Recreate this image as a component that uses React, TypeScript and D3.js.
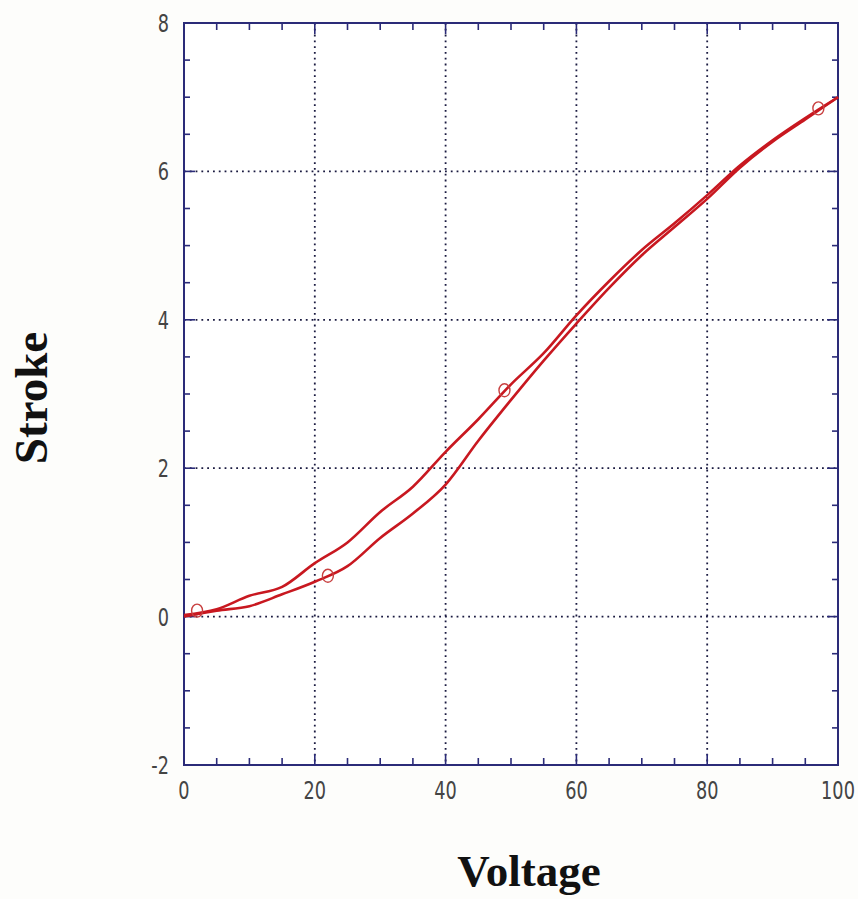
import React from 'react'
import * as d3 from 'd3'

const voltage = [0, 5, 10, 15, 20, 25, 30, 35, 40, 45, 50, 55, 60, 65, 70, 75, 80, 85, 90, 95, 100]
const strokeLower = [0.0, 0.08, 0.14, 0.3, 0.47, 0.68, 1.06, 1.39, 1.78, 2.37, 2.92, 3.45, 3.95, 4.43, 4.87, 5.25, 5.63, 6.05, 6.4, 6.7, 7.0]
const strokeUpper = [0.02, 0.1, 0.28, 0.4, 0.72, 1.0, 1.41, 1.75, 2.22, 2.66, 3.13, 3.55, 4.06, 4.52, 4.94, 5.3, 5.68, 6.08, 6.42, 6.72, 7.0]
const markers = [
	{ v: 2, s: 0.08 },
	{ v: 22, s: 0.55 },
	{ v: 49, s: 3.05 },
	{ v: 97, s: 6.85 },
]
const xTicks = [0, 20, 40, 60, 80, 100]
const yTicks = [-2, 0, 2, 4, 6, 8]

const W = 858
const H = 899
const margin = { top: 23, right: 20, bottom: 134, left: 184 }

const App = () => {
	const x = d3.scaleLinear().domain([0, 100]).range([margin.left, W - margin.right])
	const y = d3.scaleLinear().domain([-2, 8]).range([H - margin.bottom, margin.top])

	const line = d3
		.line<number>()
		.x((_, i) => x(voltage[i]))
		.y((d) => y(d))
		.curve(d3.curveMonotoneX)

	const frame = '#2b2b78'
	const x0 = x(0), x1 = x(100), y0 = y(-2), y1 = y(8)
	const xMinor = d3.range(0, 101, 5)
	const yMinor = d3.range(-2, 8.01, 0.5)
	const tickFont = '"Liberation Sans Narrow", "DejaVu Sans Condensed", "Roboto Condensed", sans-serif'

	return (
		<svg width={W} height={H} style={{ position: 'absolute', left: 0, top: 0 }}>
			<rect width={W} height={H} fill="#fdfdfb" />
			<rect x={x0} y={y1} width={x1 - x0} height={y0 - y1} fill="#ffffff" />
			{/* grid */}
			{xTicks.slice(1, -1).map((t) => (
				<line key={'gx' + t} x1={x(t)} x2={x(t)} y1={y1} y2={y0} stroke="#1a1a40" strokeWidth={1.8} strokeDasharray="1.8,4" />
			))}
			{yTicks.slice(1, -1).map((t) => (
				<line key={'gy' + t} x1={x0} x2={x1} y1={y(t)} y2={y(t)} stroke="#1a1a40" strokeWidth={1.8} strokeDasharray="1.8,4" />
			))}
			{/* minor / major ticks */}
			{xMinor.map((t) => {
				const len = t % 20 === 0 ? 11 : 7
				return (
					<g key={'tx' + t} stroke={frame} strokeWidth={1.6}>
						<line x1={x(t)} x2={x(t)} y1={y0} y2={y0 - len} />
						<line x1={x(t)} x2={x(t)} y1={y1} y2={y1 + len} />
					</g>
				)
			})}
			{yMinor.map((t) => {
				const len = Math.abs(t % 2) < 1e-6 ? 11 : 6
				return (
					<g key={'ty' + t} stroke={frame} strokeWidth={1.6}>
						<line x1={x0} x2={x0 + len} y1={y(t)} y2={y(t)} />
						<line x1={x1} x2={x1 - len} y1={y(t)} y2={y(t)} />
					</g>
				)
			})}
			<rect x={x0} y={y1} width={x1 - x0} height={y0 - y1} fill="none" stroke={frame} strokeWidth={2} />
			{/* data */}
			<path d={line(strokeLower) ?? ''} fill="none" stroke="#c81820" strokeWidth={2.6} strokeLinejoin="round" />
			<path d={line(strokeUpper) ?? ''} fill="none" stroke="#c81820" strokeWidth={2.6} strokeLinejoin="round" />
			{markers.map((m, i) => (
				<ellipse key={i} cx={x(m.v)} cy={y(m.s)} rx={5.5} ry={6.5} fill="none" stroke="#c84040" strokeWidth={1.4} />
			))}
			{/* tick labels */}
			{xTicks.map((t) => (
				<text key={'lx' + t} transform={`translate(${x(t)},${y0 + 34}) scale(0.82,1)`} textAnchor="middle" fontFamily={tickFont} fontSize={24} fill="#444">
					{t}
				</text>
			))}
			{yTicks.map((t) => (
				<text key={'ly' + t} transform={`translate(${x0 - 15},${y(t) + 9}) scale(0.82,1)`} textAnchor="end" fontFamily={tickFont} fontSize={24} fill="#444">
					{t}
				</text>
			))}
			{/* axis titles */}
			<text x={529} y={886} textAnchor="middle" fontFamily='"Liberation Serif", "Times New Roman", serif' fontWeight="bold" fontSize={45} fill="#111">
				Voltage
			</text>
			<text transform="translate(47,398) rotate(-90)" textAnchor="middle" fontFamily='"Liberation Serif", "Times New Roman", serif' fontWeight="bold" fontSize={47} fill="#111">
				Stroke
			</text>
		</svg>
	)
}

export default App
